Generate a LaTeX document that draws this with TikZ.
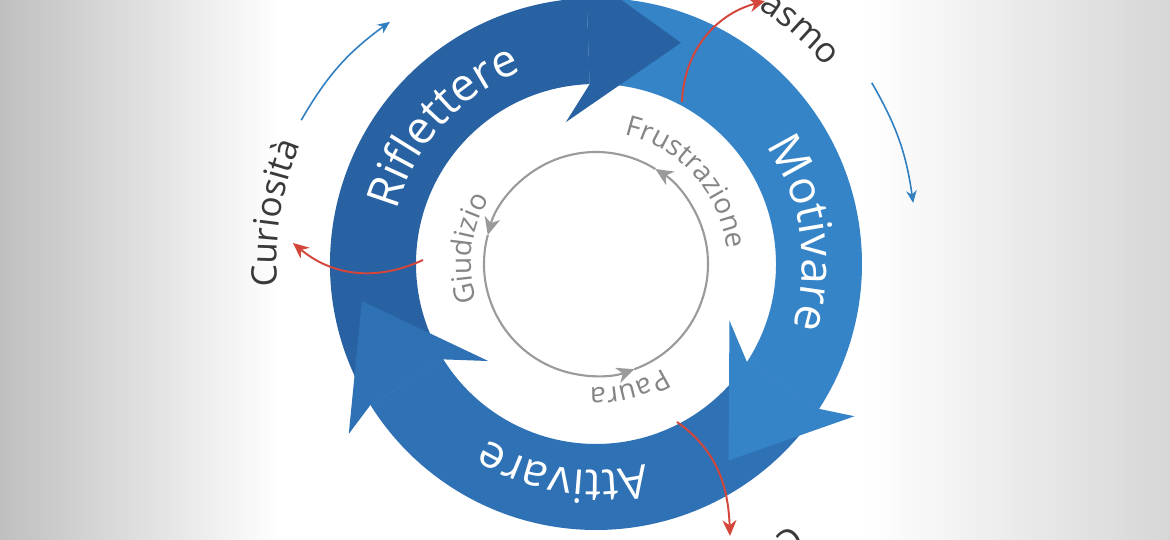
\documentclass[tikz,border=0pt]{standalone}
\usepackage{fontspec}
\setmainfont{Open Sans}
\usetikzlibrary{arrows.meta,decorations.text}

\definecolor{rifl}{HTML}{2862A2}
\definecolor{moti}{HTML}{3584C8}
\definecolor{atti}{HTML}{2E71B4}
\definecolor{arrred}{HTML}{D4453A}
\definecolor{lineblue}{HTML}{2F7FC1}
\definecolor{cyclegray}{HTML}{9A9A9A}
\definecolor{labelgray}{HTML}{858585}
\definecolor{outerdark}{HTML}{3A3A3A}

\pgfdeclarehorizontalshading{backfade}{100bp}{color(0bp)=(gray!50); color(25bp)=(gray!50); color(37bp)=(white); color(62bp)=(white); color(75bp)=(gray!32); color(100bp)=(gray!32)}

\newcommand{\bandfont}{\fontsize{26}{26}\selectfont}
\newcommand{\innerfont}{\fontsize{16}{16}\selectfont}
\newcommand{\outerfont}{\fontsize{20}{20}\selectfont}

\begin{document}
\begin{tikzpicture}[
	bandtext/.style = {decorate, decoration={text along path, text align=center, text color=white, text={|\bandfont|#1}}},
	innertext/.style = {decorate, decoration={text along path, text align=center, text color=labelgray, text={|\innerfont|#1}}},
	outertext/.style = {decorate, decoration={text along path, text align=center, text color=outerdark, text={|\outerfont|#1}}},
	redarr/.style = {draw=arrred, line width=1.1pt, -{Stealth[length=9pt, width=8pt]}},
	bluearr/.style = {draw=lineblue, line width=0.9pt, -{Stealth[length=7pt, width=6pt]}},
	cyclearr/.style = {draw=cyclegray, line width=1.2pt, -{Stealth[length=10pt, width=9pt, inset=3pt]}}
]
	\clip (-11.92,-5.52) rectangle (11.48,5.28);
	\shade[shading=backfade] (-11.92,-5.52) rectangle (11.48,5.28);

	\def\rin{3.6}
	\def\rout{5.32}
	\foreach \tail/\base/\col in {212/92/rifl, 92/-33/moti, -33/-148/atti}
		\fill[fill=\col] (\tail:\rout) arc[start angle=\tail, end angle=\base, radius=\rout] -- (\base:\rin) arc[start angle=\base, end angle=\tail, radius=\rin] -- cycle;
	\foreach \base/\col in {92/rifl, -33/moti, -148/atti}
		\fill[fill=\col] (\base:\rin) -- ({\base+10}:2.9) -- ({\base-23}:4.74) -- ({\base+2.5}:6) -- (\base:\rout) -- cycle;

	\path[bandtext=Riflettere] (178:4.13) arc[start angle=178, end angle=98, radius=4.13];
	\path[bandtext=Motivare] (48.5:4.13) arc[start angle=48.5, end angle=-31.5, radius=4.13];
	\path[bandtext=Attivare] (-59:4.13) arc[start angle=-59, end angle=-139, radius=4.13];

	\foreach \s/\e in {-70/58, 58/165, 165/290}
		\draw[cyclearr] (\s:2.24) arc[start angle=\s, end angle=\e, radius=2.24];
	\path[innertext=Frustrazione] (100:2.64) arc[start angle=100, end angle=-16, radius=2.64];
	\path[innertext=Giudizio] (223:2.5) arc[start angle=223, end angle=123, radius=2.5];
	\path[innertext=Paura] (-35:2.48) arc[start angle=-35, end angle=-115, radius=2.48];

	\path[outertext=Curiosità] (201:6.38) arc[start angle=201, end angle=141, radius=6.38];
	\path[outertext=asmo] (69:6.05) arc[start angle=69, end angle=29, radius=6.05];
	\path[outertext=C] (-40:6.52) arc[start angle=-40, end angle=-70, radius=6.52];

	\coordinate (curio-in) at (-3.46,0.08);
	\coordinate (curio-out) at (-6.06,0.42);
	\coordinate (entu-in) at (1.72,3.24);
	\coordinate (entu-out) at (3.38,5.26);
	\coordinate (low-in) at (1.62,-3.16);
	\coordinate (low-out) at (2.68,-5.44);
	\draw[redarr] (curio-in) to[out=205, in=-40] (curio-out);
	\draw[redarr] (entu-in) to[out=88, in=195] (entu-out);
	\draw[redarr] (low-in) to[out=-35, in=92] (low-out);

	\coordinate (up-a) at (154:6.56);
	\coordinate (up-b) at (130.4:6.36);
	\coordinate (rt-a) at (33.3:6.6);
	\coordinate (rt-b) at (10.9:6.46);
	\draw[bluearr] (up-a) to[bend left=12] (up-b);
	\draw[bluearr] (rt-a) to[bend left=11] (rt-b);
\end{tikzpicture}
\end{document}
